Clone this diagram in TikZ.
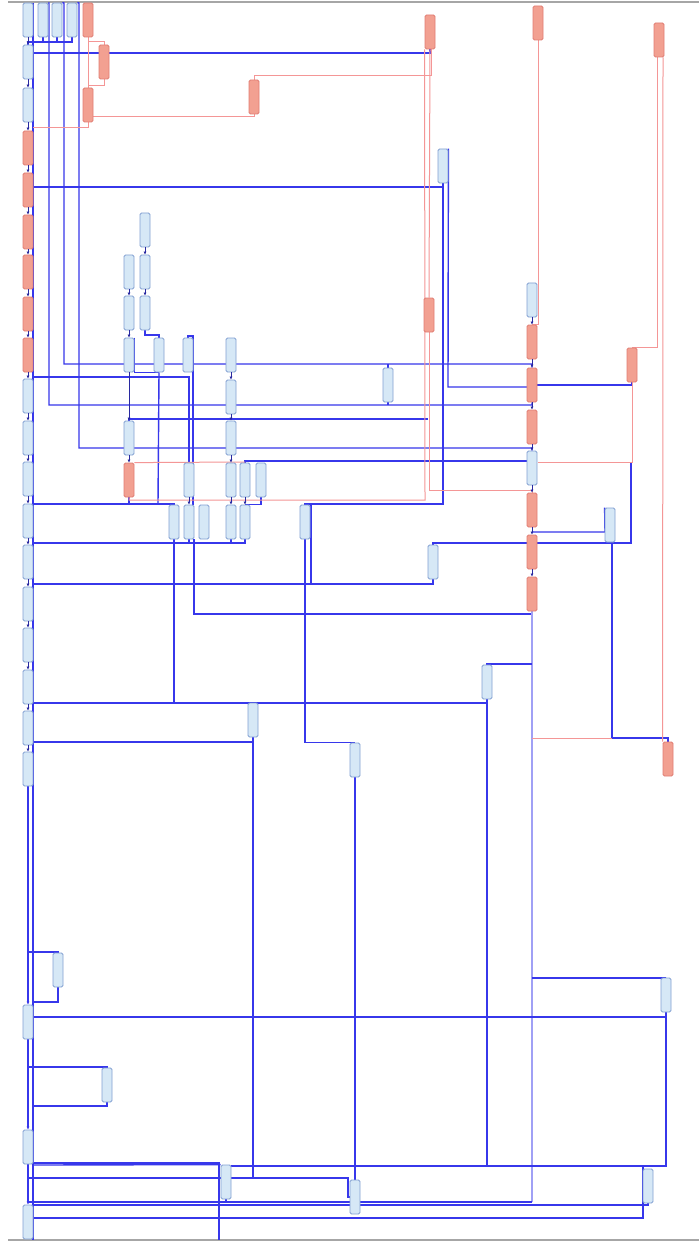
\documentclass[tikz,border=0pt]{standalone}
\usetikzlibrary{arrows.meta}
\definecolor{bl}{RGB}{55,55,235}
\definecolor{rl}{RGB}{244,150,150}
\definecolor{lav}{RGB}{160,160,245}
\definecolor{bfill}{RGB}{214,232,246}
\definecolor{bdraw}{RGB}{130,160,210}
\definecolor{rfill}{RGB}{242,160,145}
\definecolor{rdraw}{RGB}{225,125,115}
\definecolor{arrc}{RGB}{40,40,160}
\pgfdeclarelayer{bg}
\pgfsetlayers{bg,main}
\tikzset{
 bn/.style={draw=bdraw, fill=bfill, rounded corners=1.5pt, minimum width=10pt, minimum height=34pt, inner sep=0pt, line width=0.8pt},
 rn/.style={bn, draw=rdraw, fill=rfill},
 bline/.style={draw=bl, line width=1.4pt},
 rline/.style={draw=rl, line width=1pt},
 lline/.style={draw=lav, line width=1.1pt},
 arr/.style={draw=arrc, line width=1pt, -{Latex[length=3pt,width=3pt]}},
 barr/.style={bline, -{Latex[length=3pt,width=3pt]}},
 frameline/.style={draw=gray!70, line width=1.5pt}
}
\begin{document}
\begin{tikzpicture}[x=1pt,y=-1pt]
\useasboundingbox (0,0) rectangle (699,1246);
% ---------- nodes ----------
\node[bn] (t1) at (28,20) {};
\node[bn] (t2) at (43,20) {};
\node[bn] (t3) at (57,20) {};
\node[bn] (t4) at (72,20) {};
\node[rn] (tr) at (88,20) {};
\node[bn] (L1) at (28,62) {};
\node[bn] (L2) at (28,105) {};
\node[rn] (L3) at (28,148) {};
\node[rn] (L4) at (28,190) {};
\node[rn] (L5) at (28,232) {};
\node[rn] (L6) at (28,272) {};
\node[rn] (L7) at (28,314) {};
\node[rn] (L8) at (28,355) {};
\node[bn] (L9) at (28,396) {};
\node[bn] (L10) at (28,438) {};
\node[bn] (L11) at (28,479) {};
\node[bn] (L12) at (28,521) {};
\node[bn] (L13) at (28,562) {};
\node[bn] (L14) at (28,604) {};
\node[bn] (L15) at (28,645) {};
\node[bn] (L16) at (28,687) {};
\node[bn] (L17) at (28,728) {};
\node[bn] (L18) at (28,769) {};
\node[bn] (L19) at (28,1022) {};
\node[bn] (L20) at (28,1147) {};
\node[bn] (L21) at (28,1222) {};
\node[bn] (s1) at (58,970) {};
\node[bn] (s2) at (107,1085) {};
\node[rn] (r1) at (104,62) {};
\node[rn] (r2) at (88,105) {};
\node[rn] (r3) at (254,97) {};
\node[rn] (r4) at (430,32) {};
\node[rn] (r5) at (538,23) {};
\node[rn] (r6) at (659,40) {};
\node[bn] (b443) at (443,166) {};
\node[bn] (c1) at (145,230) {};
\node[bn] (c2) at (129,272) {};
\node[bn] (c3) at (145,272) {};
\node[bn] (c4) at (129,313) {};
\node[bn] (c5) at (145,313) {};
\node[bn] (c6) at (129,355) {};
\node[bn] (c7) at (159,355) {};
\node[bn] (c8) at (188,355) {};
\node[bn] (c9) at (231,355) {};
\node[bn] (c10) at (231,397) {};
\node[bn] (c11) at (129,438) {};
\node[bn] (c12) at (231,438) {};
\node[rn] (rc) at (129,480) {};
\node[bn] (c13) at (189,480) {};
\node[bn] (c14) at (231,480) {};
\node[bn] (c15) at (245,480) {};
\node[bn] (c16) at (261,480) {};
\node[bn] (d1) at (174,522) {};
\node[bn] (d2) at (189,522) {};
\node[bn] (d3) at (204,522) {};
\node[bn] (d4) at (231,522) {};
\node[bn] (d5) at (245,522) {};
\node[bn] (d6) at (305,522) {};
\node[bn] (m1) at (388,385) {};
\node[rn] (rr1) at (429,315) {};
\node[bn] (k1) at (532,300) {};
\node[rn] (k2) at (532,342) {};
\node[rn] (k3) at (532,385) {};
\node[rn] (k4) at (532,427) {};
\node[bn] (k5) at (532,468) {};
\node[rn] (k6) at (532,510) {};
\node[rn] (k7) at (532,552) {};
\node[rn] (k8) at (532,594) {};
\node[rn] (rr2) at (632,365) {};
\node[bn] (p1) at (610,525) {};
\node[bn] (p2) at (433,562) {};
\node[bn] (p3) at (487,682) {};
\node[bn] (p4) at (253,720) {};
\node[bn] (p5) at (355,760) {};
\node[rn] (rr3) at (668,759) {};
\node[bn] (q1) at (666,995) {};
\node[bn] (q2) at (226,1182) {};
\node[bn] (q3) at (355,1197) {};
\node[bn] (q4) at (648,1186) {};
% ---------- short arrows ----------
\draw[arr] (t1.south) -- (L1.north);
\foreach \a/\b in {1/2,2/3,3/4,4/5,5/6,6/7,7/8,8/9,9/10,10/11,11/12,12/13,13/14,14/15,15/16,16/17,17/18}
  \draw[arr] (L\a.south) -- (L\b.north);
\foreach \a/\b in {1/2,2/3,3/4,4/5,5/6,6/7,7/8}
  \draw[arr] (k\a.south) -- (k\b.north);
\foreach \a/\b in {c1/c3,c3/c5,c2/c4,c4/c6,c6/c11,c11/rc,c9/c10,c10/c12,c12/c14,c14/d4,c13/d2,c15/d5}
  \draw[arr] (\a.south) -- (\b.north);
% ---------- connectors ----------
\begin{pgfonlayer}{bg}
\fill[white] (0,0) rectangle (699,1246);
\draw[frameline] (8,2) -- (699,2);
\draw[frameline] (8,1240) -- (699,1240);
\coordinate (trTop) at (33,3);
\coordinate (trBot) at (33,1240);
\draw[bline] (trTop) -- (trBot);
% top bus
\draw[bline] (t4.south) -- (72,42) -- (28,42) -- (L1.north);
\draw[bline] (t2.south) -- (43,42);
\draw[bline] (t3.south) -- (57,42);
% long verticals from the top row
\draw[bline] (t2.north east) -- (49,3) -- (49,405) -| (k3.south);
\draw[bline] (t3.north east) -- (64,3) -- (64,364) -| (k3.north);
\draw[bline] (t4.north east) -- (79,3) -- (79,448) -| (k5.north);
\draw[bline] (m1.north) -- (388,364);
\draw[bline] (m1.south) -- (388,405);
% upper horizontals
\draw[bline] (r4.south) |- (33,53);
\draw[bline] (b443.south) |- (33,187);
\draw[bline] (b443.south) -- (443,504) -| (d6.north);
\draw[bline] (311,504) -- (311,584);
\draw[bline] (b443.north east) -- (448,387) -- (527,387);
\draw[bline] (k3.east) -| (rr2.south);
% cluster
\draw[bline] (33,377) -| (c13.north);
\draw[bline] (c8.north) -- (188,336) -- (193,336) -- (193,505);
\draw[bline] (c5.south) -- (145,335) -| (c7.north);
\draw[bline] (c6.north east) |- (c7.south);
\draw[bline] (c7.south) -- (158,504);
\draw[bline] (d1.north) |- (33,504);
\draw[bline] (rc.south) -- (129,504);
\draw[bline] (c11.north) -- (129,419) -- (428,419);
\draw[bline] (c15.north) -- (245,461) -- (527,461);
\draw[bline] (c16.south) |- (d5.north);
% middle
\draw[bline] (d5.south) |- (33,543);
\draw[bline] (d1.south) -- (174,703);
\draw[bline] (d2.south) -- (189,543);
\draw[bline] (d4.south) -- (231,543);
\draw[bline] ([xshift=5pt]d2.south) -- (194,614) -| (k8.south);
\draw[bline] (d6.south) |- (p5.north);
\draw[bline] (p5.south) -- (q3.north);
\draw[bline] (p2.south) |- (33,584);
\draw[bline] (p2.north) |- (631,543) -- (631,462);
\draw[bline] (p1.north west) -- (605,532) -- (533,532);
\draw[bline] ([xshift=2pt]p1.south) -- (612,738) -| (rr3.north);
\draw[lline] (k8.south) -- (532,1202);
\draw[bline] (532,1202) -- (28,1202);
\draw[bline] (p3.north) -- (487,664) -- (532,664);
\draw[bline] (p3.south) |- (33,703);
\draw[bline] (p3.south) -- (487,1166);
\draw[bline] (p4.south) |- (33,742);
\draw[bline] (p4.south) -- (253,1178);
% bottom
\draw[bline] (28,1178) -- (348,1178) |- (q3.west);
\draw[bline] (q1.south) |- (33,1017);
\draw[bline] (532,978) -| (q1.north);
\draw[bline] (q1.south) -- (666,1166) -- (231,1166);
\draw[bline] (33,1165) -- (q2.north west);
\draw[bline] (28,1163) -- (219,1163) -- (219,1240);
\draw[bline] (33,1218) -- (643,1218) -- (643,1166);
\draw[bline] (33,1205) -- (648,1205) -- (q4.south);
\draw[bline] (q2.south) -- (226,1202);
\draw[bline] (28,952) -| (s1.north);
\draw[bline] (s1.south) |- (33,1002);
\draw[bline] (28,1067) -| (s2.north);
\draw[bline] (s2.south) |- (33,1106);
\draw[barr] (L18.south) -- (L19.north);
\draw[barr] (L19.south) -- (L20.north);
\draw[barr] (L20.south) -- (L21.north);
% red connectors
\draw[rline] (tr.south) -- (r2.north);
\draw[rline] (tr.south) -- (88,42) -| (r1.north);
\draw[rline] (r1.south) -- (104,86) -| (r2.north);
\draw[rline] (r2.south) -- (88,128) -- (33,128);
\draw[rline] (r2.east) ++(0,12) -| (r3.south);
\draw[rline] (r3.north) |- (431,76) -- (431,49);
\draw[rline] (r4.south west) -- (425,500) -| (rc.south);
\draw[rline] (r4.south) -- (rr1.north);
\draw[rline] (rr1.south) -- (429,490) -| (k6.north);
\draw[rline] (r5.south) |- (k2.north);
\draw[rline] ([xshift=-2pt]r6.south) -- (657,347) -| (rr2.north);
\draw[rline] ([xshift=4pt]r6.south) -- (rr3.north west);
\draw[rline] (rr2.south) |- (538,462);
\draw[rline] (rc.north east) -- (245,462);
\draw[rline] (532,738) -- (612,738);
\end{pgfonlayer}
\end{tikzpicture}
\end{document}
